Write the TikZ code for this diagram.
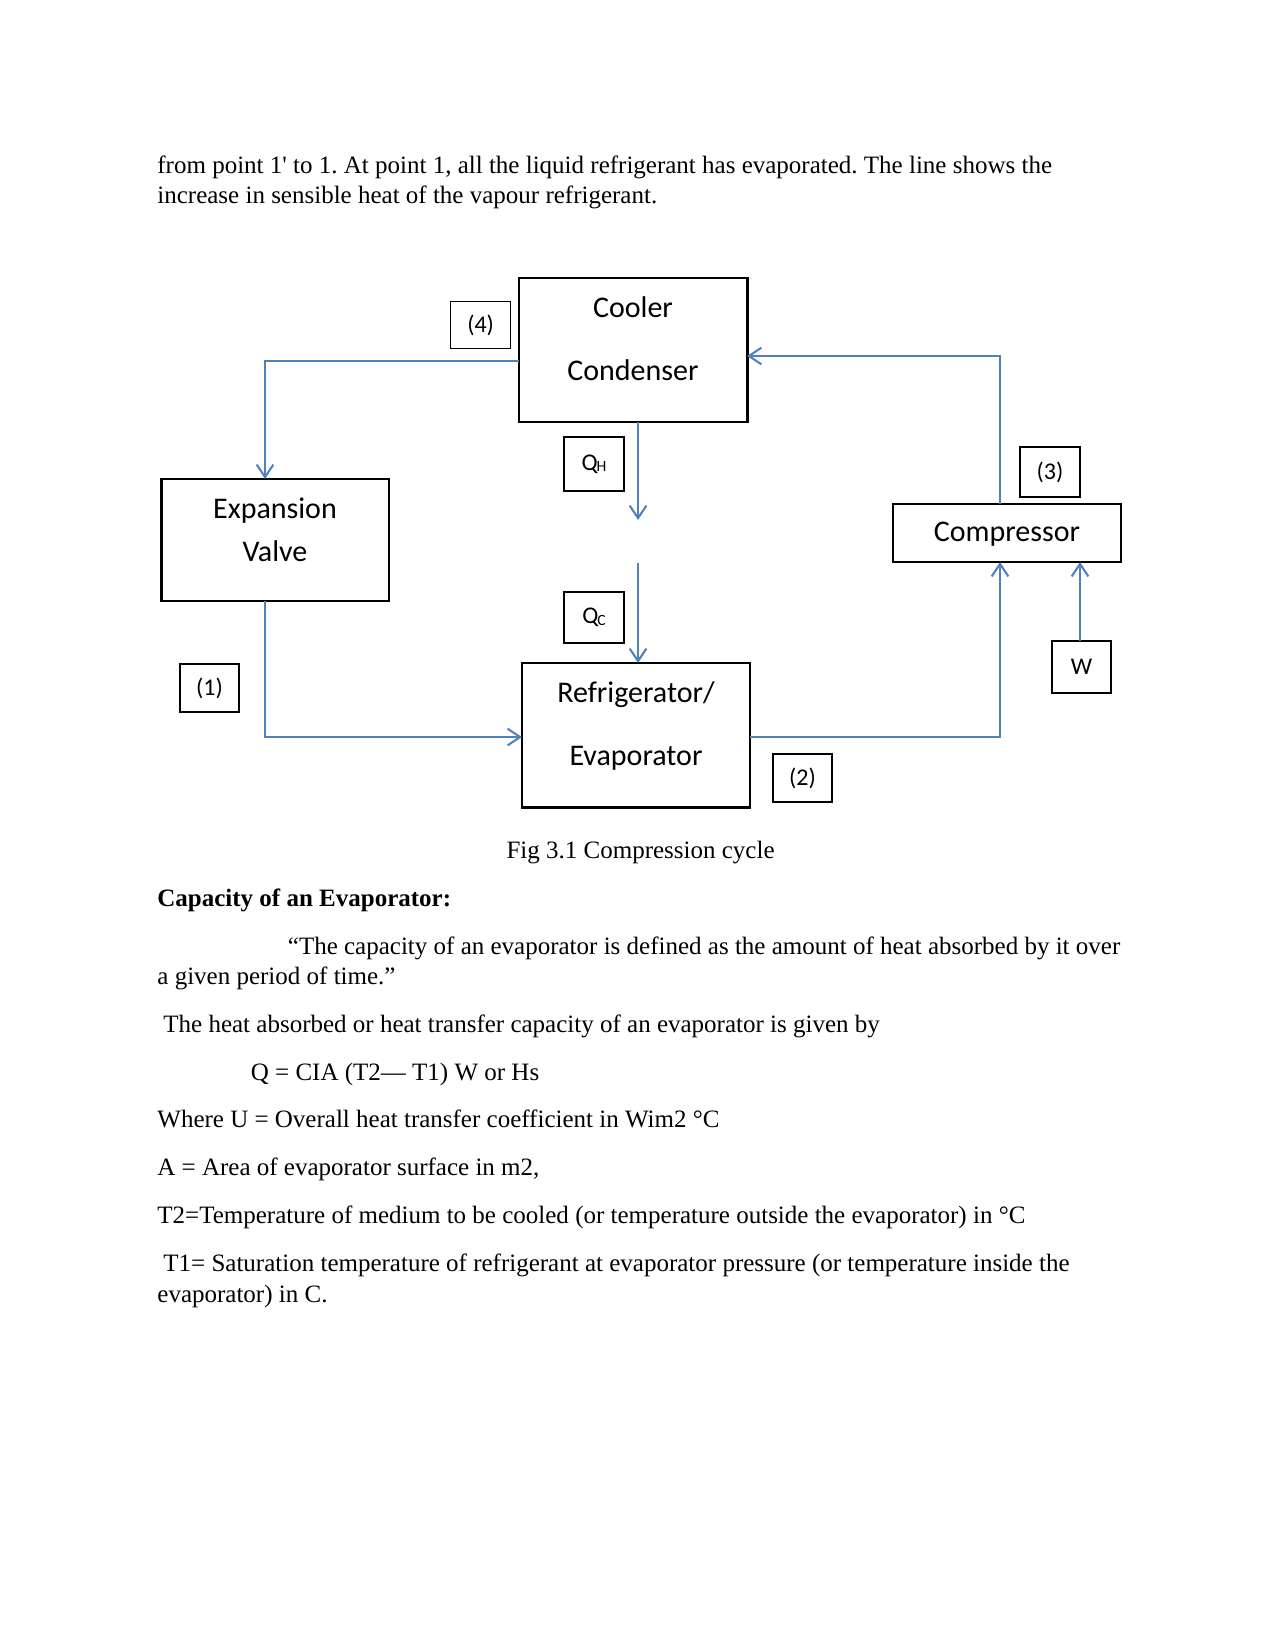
\documentclass[tikz,border=0pt]{standalone}
\usepackage{fontspec}
\setmainfont{Liberation Serif}
\newfontfamily\rawserif{Liberation Serif}
\newfontfamily\diag{Carlito}
\usetikzlibrary{arrows.meta}
\definecolor{flowblue}{RGB}{79,129,189}
\frenchspacing
\tikzset{
  x=0.48pt, y=-0.48pt,
  box/.style={draw=black, line width=1.2pt, inner sep=0pt},
  tag/.style={draw=black, line width=0.7pt, inner sep=0pt, font=\diag\fontsize{11.5}{13}\selectfont},
  lbl/.style={inner sep=0pt, font=\diag\fontsize{14.4}{16}\selectfont},
  flow/.style={draw=flowblue, line width=1pt, -{Straight Barb[length=6pt,width=8pt,line width=1pt]}},
  body/.style={inner sep=0pt, anchor=base west, font=\fontsize{12}{14}\selectfont},
}
\newcommand{\qsub}[1]{Q\kern-0.6pt\raisebox{-0.8pt}{\fontsize{7.5}{7.5}\selectfont #1}}
\begin{document}
\begin{tikzpicture}
\useasboundingbox (0,0) rectangle (1275,1651);
% text above
\node[body] (t1) at (157,173.7) {from point 1{\rawserif '} to 1. At point 1, all the liquid refrigerant has evaporated. The line shows the};
\node[body] (t2) at (157,204) {increase in sensible heat of the vapour refrigerant.};
% boxes
\node[box, minimum width=228.5*0.48pt, minimum height=144*0.48pt] (cond) at (633,350) {};
\node[lbl] (condA) at (633,307) {Cooler};
\node[lbl] (condB) at (633,370.5) {Condenser};
\node[box, minimum width=227.5*0.48pt, minimum height=122*0.48pt] (exp) at (275,540) {};
\node[lbl] (expA) at (275,510.5) {Expansion};
\node[lbl] (expB) at (275,551) {Valve};
\node[box, minimum width=228*0.48pt, minimum height=58*0.48pt] (comp) at (1007,533) {};
\node[lbl] (compA) at (1007,534.5) {Compressor};
\node[box, minimum width=228*0.48pt, minimum height=144.5*0.48pt] (evap) at (636,735) {};
\node[lbl] (evapA) at (636,695) {Refrigerator/};
\node[lbl] (evapB) at (636,758) {Evaporator};
% tags
\node[tag, minimum width=60*0.48pt, minimum height=47.5*0.48pt] (p4) at (480.6,325) {(4)};
\node[tag, minimum width=60*0.48pt, minimum height=54*0.48pt] (qh) at (594,464) {\qsub{H}};
\node[tag, minimum width=60*0.48pt, minimum height=51*0.48pt] (qc) at (594,617.5) {\qsub{C}};
\node[tag, minimum width=60*0.48pt, minimum height=50*0.48pt] (p3) at (1050,472) {(3)};
\node[tag, minimum width=59*0.48pt, minimum height=52*0.48pt] (w) at (1081.5,667) {W};
\node[tag, minimum width=59*0.48pt, minimum height=48*0.48pt] (p1) at (209.5,688) {(1)};
\node[tag, minimum width=59*0.48pt, minimum height=48*0.48pt] (p2) at (802.5,778) {(2)};
% connector points
\coordinate (condout) at (519,361);
\coordinate (expin) at (265,479);
\coordinate (expout) at (265,601);
\coordinate (evapin) at (522,737);
\coordinate (evapout) at (750,737);
\coordinate (compin) at (1000,562);
\coordinate (compout) at (1000,504);
\coordinate (condin) at (747,356);
\coordinate (qhstart) at (638,422);
\coordinate (qhend) at (638,520);
\coordinate (qcstart) at (638,563);
\coordinate (qcend) at (638,663);
\coordinate (win) at (1080,562);
\coordinate (wout) at (1080,641);
% connectors
\draw[flow] (condout) -| (expin);
\draw[flow] (expout) |- (evapin);
\draw[flow] (evapout) -| (compin);
\draw[flow] (compout) |- (condin);
\draw[flow] (qhstart) -- (qhend);
\draw[flow] (qcstart) -- (qcend);
\draw[flow] (wout) -- (win);
% caption and text below
\node[inner sep=0pt, anchor=base, font=\fontsize{12}{14}\selectfont] (cap) at (640.6,858) {Fig 3.1 Compression cycle};
\node[body, font=\fontsize{12}{14}\selectfont\bfseries] (h1) at (157,906) {Capacity of an Evaporator:};
\node[body] (q1) at (287.5,954) {“The capacity of an evaporator is defined as the amount of heat absorbed by it over};
\node[body] (q2) at (157,984) {a given period of time.”};
\node[body] (b1) at (163,1032) {The heat absorbed or heat transfer capacity of an evaporator is given by};
\node[body] (b2) at (250.5,1080) {Q = CIA (T2— T1) W or Hs};
\node[body] (b3) at (157,1127.5) {Where U = Overall heat transfer coefficient in Wim2 °C};
\node[body] (b4) at (157,1175) {A = Area of evaporator surface in m2,};
\node[body] (b5) at (157,1223) {T2=Temperature of medium to be cooled (or temperature outside the evaporator) in °C};
\node[body] (b6) at (163,1271) {T1= Saturation temperature of refrigerant at evaporator pressure (or temperature inside the};
\node[body] (b7) at (157,1302) {evaporator) in C.};
\end{tikzpicture}
\end{document}
